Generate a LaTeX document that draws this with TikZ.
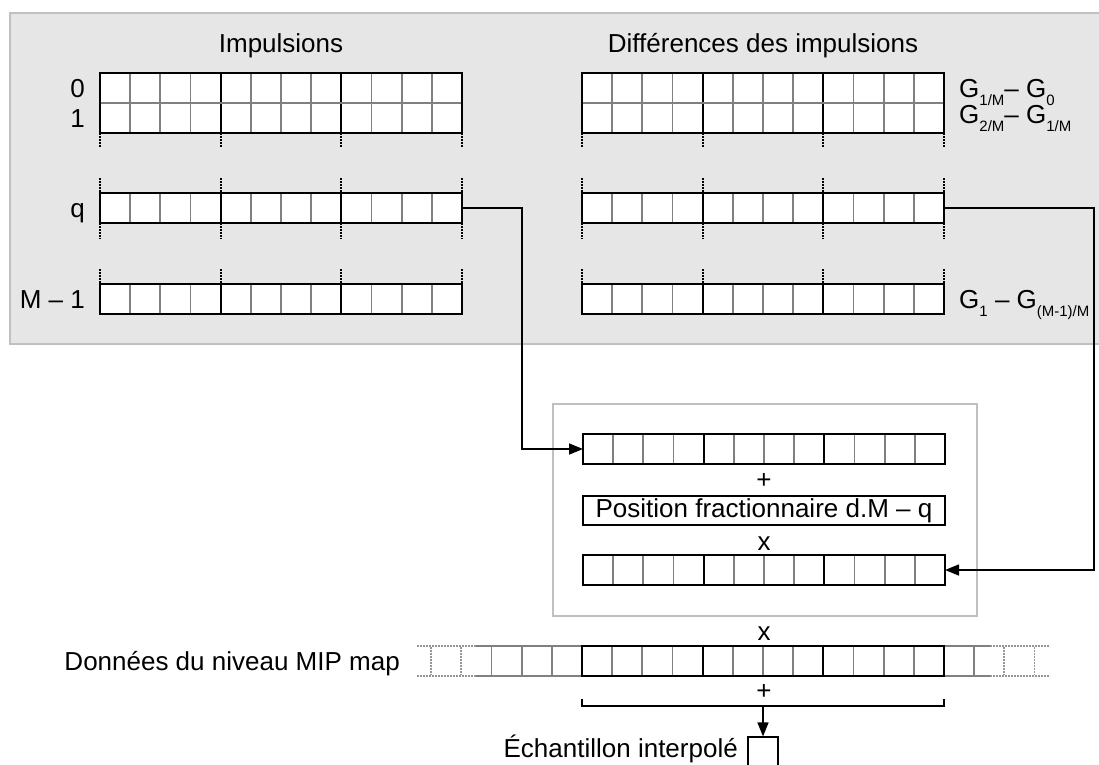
\documentclass[tikz,border=0pt]{standalone}
\usepackage{fontspec}
\setmainfont{Liberation Sans}
\usepackage{tikz}
\usetikzlibrary{arrows.meta}

\definecolor{panelgray}{RGB}{230,230,230}
\definecolor{framegray}{RGB}{192,192,192}
\definecolor{cellgray}{RGB}{128,128,128}
\definecolor{fadegray}{RGB}{150,150,150}

\newcommand{\lowidx}[1]{\raisebox{-8pt}{\fontsize{15}{15}\selectfont #1}}

\tikzset{
	txt/.style={font=\fontsize{26}{30}\selectfont, inner sep=0pt},
	rowbox/.style={draw=black, fill=white, line width=1.8pt, minimum width=362pt, minimum height=30pt, inner sep=0pt, outer sep=0pt, anchor=north west},
	cellline/.style={draw=cellgray, line width=1.8pt},
	quarterline/.style={draw=black, line width=1.8pt},
	fadeline/.style={draw=fadegray, line width=1.8pt, dash pattern=on 2pt off 1pt},
	tickline/.style={draw=black, line width=2pt, dash pattern=on 2pt off 1pt},
	link/.style={draw=black, line width=1.6pt},
	tip/.style={-{Triangle[length=14pt,width=11pt]}},
}

\newcommand{\cellrow}[3]{%
	\node [rowbox] (#1) at (#2, #3) {};
	\foreach \i in {1, ..., 11} {
		\draw [cellline] (#2 + \i*30.17, #3 + 1) -- (#2 + \i*30.17, #3 + 29);
	}
	\foreach \i in {4, 8} {
		\draw [quarterline] (#2 + \i*30.17, #3 + 1) -- (#2 + \i*30.17, #3 + 29);
	}
}

\newcommand{\dotticks}[3]{%
	\foreach \i in {0, 4, 8, 12} {
		\draw [tickline] (#1 + \i*30.17, #2) -- (#1 + \i*30.17, #3);
	}
}

\begin{document}
\begin{tikzpicture}[x=1pt, y=-1pt]
	\useasboundingbox (0, 0) rectangle (1099, 764);

	\draw [draw=framegray, fill=panelgray, line width=1.6pt] (10, 13) rectangle (1120, 344);

	\node [txt, anchor=base] (impt) at (281, 52) {Impulsions};
	\node [txt, anchor=base] (dift) at (763, 52) {Différences des impulsions};

	\cellrow{imp0}{100}{73}
	\cellrow{imp1}{100}{103}
	\draw [cellline] (101, 103) -- (461, 103);
	\dotticks{100}{133}{148}
	\dotticks{100}{178}{193}
	\cellrow{impq}{100}{193}
	\dotticks{100}{223}{239}
	\dotticks{100}{269}{284}
	\cellrow{impm}{100}{284}

	\cellrow{dif0}{582}{73}
	\cellrow{dif1}{582}{103}
	\draw [cellline] (583, 103) -- (943, 103);
	\dotticks{582}{133}{148}
	\dotticks{582}{178}{193}
	\cellrow{difq}{582}{193}
	\dotticks{582}{223}{239}
	\dotticks{582}{269}{284}
	\cellrow{difm}{582}{284}

	\node [txt, anchor=base east] (lab0) at (85, 97) {0};
	\node [txt, anchor=base east] (lab1) at (85, 127) {1};
	\node [txt, anchor=base east] (labq) at (85, 217) {q};
	\node [txt, anchor=base east] (labm) at (85, 308) {M – 1};

	\node [txt, anchor=base west] (g0) at (959, 97) {G\lowidx{1/M}– G\lowidx{0}};
	\node [txt, anchor=base west] (g1) at (959, 123) {G\lowidx{2/M}– G\lowidx{1/M}};
	\node [txt, anchor=base west] (gm) at (959, 308) {G\lowidx{1} – G\lowidx{(M-1)/M}};

	\draw [draw=framegray, line width=1.6pt] (553, 404) rectangle (977, 616);

	\cellrow{accA}{583}{434}
	\node [txt] (plusA) at (764, 481) {+};
	\node [txt, draw=black, fill=white, line width=1.6pt, minimum width=362pt, minimum height=29pt] (frac) at (764, 510.5) {Position fractionnaire d.M – q};
	\node [txt] (timesA) at (764, 543.5) {x};
	\cellrow{accB}{583}{555}

	\coordinate (bendL) at (522, 0);
	\coordinate (bendR) at (1094, 0);
	\draw [link, tip] (impq.east) -- (impq.east -| bendL) |- (accA.west);
	\draw [link, tip] (difq.east) -- (difq.east -| bendR) |- (accB.east);

	\node [txt] (timesB) at (764, 633.5) {x};

	\draw [cellline] (476, 646) -- (990, 646);
	\draw [cellline] (476, 676) -- (990, 676);
	\foreach \i in {1, 2, 3} {
		\draw [cellline] (582 - \i*30.17, 647) -- (582 - \i*30.17, 675);
	}
	\draw [cellline] (974.17, 647) -- (974.17, 675);
	\draw [fadeline] (417, 646) -- (476, 646);
	\draw [fadeline] (417, 676) -- (476, 676);
	\draw [fadeline] (990, 646) -- (1050, 646);
	\draw [fadeline] (990, 676) -- (1050, 676);
	\foreach \x in {461.3, 431.2, 1004.3, 1034.5} {
		\draw [fadeline] (\x, 647) -- (\x, 675);
	}
	\cellrow{mip}{582}{646}
	\node [txt, anchor=base east] (mipt) at (400, 670) {Données du niveau MIP map};

	\node [txt] (plusB) at (764, 692) {+};
	\draw [link] ([yshift=-23pt]mip.south west) -- ++(0, 7) -| ([yshift=-23pt]mip.south east);
	\coordinate (sum) at ([yshift=-30pt]mip.south);

	\node [draw=black, fill=white, line width=1.2pt, minimum width=30pt, minimum height=30pt, inner sep=0pt] (res) at (763, 752) {};
	\draw [link, tip] (sum) -- (res.north);
	\node [txt, anchor=base east] (rest) at (738, 757) {Échantillon interpolé};
\end{tikzpicture}
\end{document}
